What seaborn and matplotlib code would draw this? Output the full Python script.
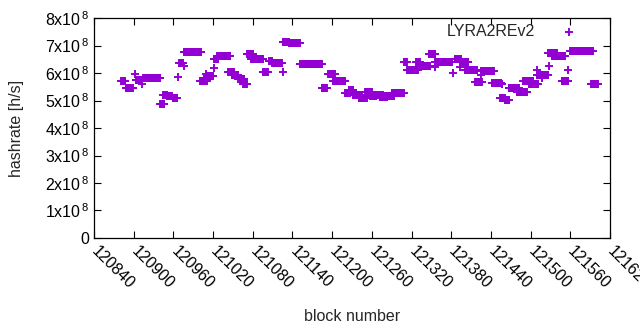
import numpy as np
import pandas as pd
import matplotlib
matplotlib.use("Agg")
import matplotlib.pyplot as plt
import seaborn as sns
from matplotlib.ticker import FuncFormatter

# Runs of consecutive blocks sharing the same hashrate (first block, last block, rate in 1e8 h/s)
run_first = [120881, 120888, 120903, 120914, 120940, 120944, 120951, 120959, 120969, 120976,
             121000, 121010, 121021, 121026, 121043, 121048, 121058, 121065, 121071, 121078,
             121096, 121104, 121109, 121125, 121135, 121151, 121184, 121194, 121202, 121220,
             121225, 121232, 121240, 121250, 121257, 121267, 121272, 121280, 121290, 121309,
             121313, 121327, 121333, 121346, 121356, 121385, 121395, 121401, 121416, 121425,
             121441, 121454, 121462, 121467, 121479, 121489, 121497, 121509, 121527, 121532,
             121547, 121560, 121592]
run_last = [120887, 120899, 120913, 120940, 120946, 120950, 120958, 120966, 120975, 121002,
            121010, 121020, 121028, 121046, 121051, 121058, 121066, 121071, 121081, 121096,
            121103, 121109, 121124, 121135, 121151, 121184, 121192, 121204, 121220, 121227,
            121232, 121245, 121252, 121260, 121267, 121277, 121283, 121293, 121308, 121313,
            121330, 121333, 121348, 121356, 121381, 121395, 121406, 121419, 121426, 121444,
            121456, 121461, 121468, 121482, 121494, 121504, 121512, 121527, 121540, 121552,
            121557, 121595, 121602]
run_rate = [5.71, 5.47, 5.76, 5.81, 4.86, 5.22, 5.17, 5.10, 6.38, 6.75,
            5.71, 5.91, 6.52, 6.63, 6.03, 5.93, 5.79, 5.62, 6.71, 6.50,
            6.05, 6.44, 6.35, 7.14, 7.10, 6.32, 5.44, 5.95, 5.73, 5.27,
            5.40, 5.21, 5.08, 5.32, 5.17, 5.22, 5.12, 5.18, 5.26, 6.42,
            6.10, 6.42, 6.27, 6.71, 6.42, 6.50, 6.42, 6.13, 5.67, 6.07,
            5.64, 5.10, 5.02, 5.47, 5.33, 5.72, 5.59, 5.93, 6.73, 6.62,
            5.73, 6.81, 5.62]

# Isolated samples
single_block = [120902, 120913, 120967, 120976, 121009, 121021, 121126, 121356, 121383,
                121393, 121425, 121457, 121509, 121517, 121528, 121557]
single_rate = [5.95, 5.61, 5.84, 6.26, 5.96, 6.17, 6.05, 6.23, 5.99,
               6.23, 5.93, 5.62, 6.10, 5.81, 6.26, 6.11]

x_ticks = list(range(120840, 121621, 60))
y_ticks = list(range(0, 9))

blocks, rates = [], []
for a, b, r in zip(run_first, run_last, run_rate):
    for blk in range(a, b + 1):
        blocks.append(blk)
        rates.append(r * 1e8)
blocks += single_block
rates += [r * 1e8 for r in single_rate]
df = pd.DataFrame({"block": blocks, "hashrate": rates})

sns.set_style("ticks")
plt.rcParams["font.family"] = ["Liberation Sans", "DejaVu Sans"]
plt.rcParams["mathtext.fontset"] = "custom"
plt.rcParams["mathtext.rm"] = "Liberation Sans"
plt.rcParams["mathtext.it"] = "Liberation Sans"

fig, ax = plt.subplots(figsize=(6.4, 3.3), dpi=100)
fig.subplots_adjust(left=0.147, right=0.953, bottom=0.279, top=0.945)

sns.scatterplot(data=df, x="block", y="hashrate", marker="+", s=30, linewidth=1.4,
                color="#9400d3", ax=ax, label="LYRA2REv2")

ax.set_xlim(120840, 121620)
ax.set_ylim(0, 8e8)
ax.set_xticks(x_ticks)
ax.set_yticks([k * 1e8 for k in y_ticks])

def fmt_y(v, pos):
    k = int(round(v / 1e8))
    if k == 0:
        return "0"
    return f"{k}x10$^{{\\,8}}$"

ax.yaxis.set_major_formatter(FuncFormatter(fmt_y))
ax.set_xticklabels([str(t) for t in x_ticks], rotation=-45, ha="left", va="center",
                   rotation_mode="anchor")

ax.tick_params(direction="in", length=5, width=0.8, top=True, right=True,
               labelsize=11.5, colors="black")
ax.tick_params(axis="x", pad=8)
for sp in ax.spines.values():
    sp.set_visible(True)
    sp.set_linewidth(0.9)
    sp.set_color("black")

ax.set_xlabel("block number", fontsize=11.5, labelpad=12)
ax.set_ylabel("hashrate [h/s]", fontsize=11.5, labelpad=15)

ax.legend(loc="upper right", bbox_to_anchor=(0.973, 1.023), markerfirst=False,
          frameon=False, fontsize=11.5, handletextpad=1.1, borderaxespad=0.3)

fig.savefig("out.png", dpi=100)
